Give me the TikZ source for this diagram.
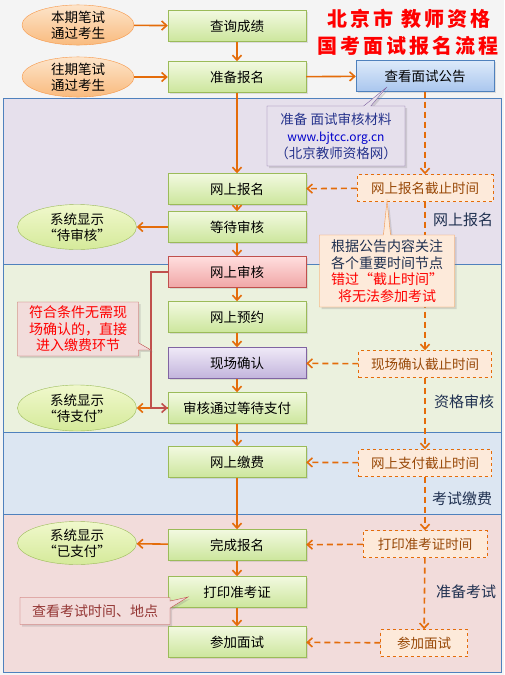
\documentclass[tikz,border=0pt]{standalone}
\usepackage{fontspec}
\setmainfont{Noto Sans CJK SC}
\newfontfamily\titlefont[LetterSpace=15]{Noto Sans CJK SC}
\usepackage{xcolor}
\usetikzlibrary{shapes.geometric, shapes.callouts, arrows.meta, positioning, shadows}

\definecolor{pagebg}{HTML}{F4F4F4}
\definecolor{bandA}{HTML}{E6E0EC}
\definecolor{bandB}{HTML}{EBF1DE}
\definecolor{bandC}{HTML}{DCE6F2}
\definecolor{bandD}{HTML}{F2DCDB}
\definecolor{bandline}{HTML}{4F81BD}
\definecolor{arrowor}{HTML}{E46C0A}
\definecolor{grntop}{HTML}{F2F9E0}
\definecolor{grnbot}{HTML}{CCE69C}
\definecolor{grnline}{HTML}{9BBB59}
\definecolor{redtop}{HTML}{FFDEDE}
\definecolor{redbot}{HTML}{F0A6A6}
\definecolor{redline}{HTML}{C0504D}
\definecolor{purtop}{HTML}{EFE9F7}
\definecolor{purbot}{HTML}{C2B4DC}
\definecolor{purline}{HTML}{8064A2}
\definecolor{blutop}{HTML}{DDEAFA}
\definecolor{blubot}{HTML}{A9C6EE}
\definecolor{orgtop}{HTML}{FDE4CA}
\definecolor{orgbot}{HTML}{F9BB7E}
\definecolor{orgline}{HTML}{F79646}
\definecolor{lgntop}{HTML}{F0F8CC}
\definecolor{lgnbot}{HTML}{D5EA9A}
\definecolor{timefill}{HTML}{FDEADA}
\definecolor{timetxt}{HTML}{984807}
\definecolor{navy}{HTML}{1F3050}
\definecolor{linkblue}{HTML}{26338C}
\definecolor{notered}{HTML}{F2DCDB}
\definecolor{notetxt}{HTML}{943634}

\begin{document}
\begin{tikzpicture}[
    x=1pt, y=-1pt,
    font=\fontsize{13.5}{16}\selectfont,
    >={Straight Barb[length=5pt,width=9pt]},
    block/.style={rectangle, minimum width=138pt, minimum height=31pt, align=center,
      drop shadow={opacity=0.2, shadow xshift=1.5pt, shadow yshift=-1.5pt}},
    greenblk/.style={block, draw=grnline, top color=grntop, bottom color=grnbot},
    redblk/.style={block, draw=redline, top color=redtop, bottom color=redbot},
    purpleblk/.style={block, draw=purline, top color=purtop, bottom color=purbot},
    blueblk/.style={block, draw=bandline, top color=blutop, bottom color=blubot},
    student/.style={ellipse, draw=orgline, top color=orgtop, bottom color=orgbot,
      minimum width=112pt, minimum height=40pt, inner sep=0pt, align=center},
    status/.style={ellipse, draw=grnline, top color=lgntop, bottom color=lgnbot,
      minimum width=119pt, minimum height=45pt, inner sep=0pt, align=center},
    timebox/.style={rectangle, draw=arrowor, dashed, fill=timefill, text=timetxt,
      minimum width=136pt, minimum height=27pt},
    phase/.style={text=navy, font=\fontsize{15}{18}\selectfont},
    note/.style={rectangle callout, align=center, inner sep=2pt, font=\fontsize{14}{16.5}\selectfont,
      drop shadow={opacity=0.25, shadow xshift=2pt, shadow yshift=-2pt}},
    arrow/.style={->, arrowor, line width=1.6pt},
    dashedarrow/.style={->, arrowor, line width=1.6pt, dash pattern=on 6pt off 4pt},
]
    \useasboundingbox (0,0) rectangle (504,675);
    \fill[pagebg] (0,0) rectangle (504,675);

    % Phase bands
    \fill[bandA] (3,98) rectangle (501,264);
    \fill[bandB] (3,264) rectangle (501,432);
    \fill[bandC] (3,432) rectangle (501,514);
    \fill[bandD] (3,514) rectangle (501,672);
    \draw[bandline] (3,264) -- (501,264) (3,432) -- (501,432) (3,514) -- (501,514);
    \draw[bandline] (3,98) rectangle (501,672);

    % Title
    \node[text=red, font=\titlefont\fontsize{20}{24}\selectfont\bfseries] (title1) at (409,19) {北京市 教师资格};
    \node[text=red, font=\titlefont\fontsize{20}{24}\selectfont\bfseries] (title2) at (408,46) {国考面试报名流程};

    % Candidates
    \node[student] (bqks) at (78,25) {本期笔试\\通过考生};
    \node[student] (wqks) at (78,77) {往期笔试\\通过考生};

    % Main column
    \node[greenblk] (chaxun) at (237,26) {查询成绩};
    \node[greenblk] (zhunbei) at (237,77) {准备报名};
    \node[blueblk] (gonggao) at (425,76) {查看面试公告};
    \node[greenblk] (wsbm) at (237,189) {网上报名};
    \node[greenblk] (dengdai) at (237,227) {等待审核};
    \node[redblk] (wssh) at (237,272) {网上审核};
    \node[greenblk] (wsyy) at (237,317) {网上预约};
    \node[purpleblk] (xcqr) at (237,363) {现场确认};
    \node[greenblk] (shtg) at (237,408) {审核通过等待支付};
    \node[greenblk] (wsjf) at (237,462) {网上缴费};
    \node[greenblk] (wcbm) at (237,545) {完成报名};
    \node[greenblk] (dyzkz) at (237,592) {打印准考证};
    \node[greenblk] (cjms) at (237,642) {参加面试};

    % Status
    \node[status] (dsh) at (77,227) {系统显示\\“待审核”};
    \node[status, minimum height=46pt] (dzf) at (77,408) {系统显示\\“待支付”};
    \node[status, minimum height=43pt] (yzf) at (77,543) {系统显示\\“已支付”};

    % Time points
    \node[timebox] (jzbm) at (425,188) {网上报名截止时间};
    \node[timebox, minimum width=133pt] (jzqr) at (425,364) {现场确认截止时间};
    \node[timebox, minimum width=133pt] (jzzf) at (425,463) {网上支付截止时间};
    \node[timebox, minimum width=124pt] (dysj) at (425,544) {打印准考证时间};
    \node[timebox, minimum width=87pt] (msdl) at (424,643) {参加面试};

    % Phase labels
    \node[phase] (ph1) at (463,220) {网上报名};
    \node[phase] (ph2) at (464,402) {资格审核};
    \node[phase] (ph3) at (462,499) {考试缴费};
    \node[phase] (ph4) at (466,592) {准备考试};

    % Solid flow
    \draw[arrow] (bqks) -- (chaxun);
    \draw[arrow] (wqks) -- (zhunbei);
    \draw[arrow] (chaxun) -- (zhunbei);
    \draw[arrow] (zhunbei) -- (gonggao);
    \draw[arrow] (zhunbei) -- (wsbm);
    \draw[arrow] (wsbm) -- (dengdai);
    \draw[arrow] (dengdai) -- (dsh);
    \draw[arrow] (dengdai) -- (wssh);
    \draw[arrow] (wssh) -- (wsyy);
    \draw[arrow] (wsyy) -- (xcqr);
    \draw[arrow] (xcqr) -- (shtg);
    \draw[arrow] (shtg) -- (dzf);
    \draw[arrow] (shtg) -- (wsjf);
    \draw[arrow] (wsjf) -- (wcbm);
    \draw[arrow] (wcbm) -- (yzf);
    \draw[arrow] (wcbm) -- (dyzkz);
    \draw[arrow] (dyzkz) -- (cjms);
    \draw[->, redline, line width=1.6pt] (wssh.west) -- ++(-17,0) |- (shtg.west);

    % Time line
    \draw[dashedarrow] (gonggao) -- (jzbm);
    \draw[dashedarrow] (jzbm) -- (jzqr);
    \draw[dashedarrow] (jzqr) -- (jzzf);
    \draw[dashedarrow] (jzzf) -- (dysj);
    \draw[dashedarrow] (dysj) -- (msdl);
    \draw[dashedarrow] (jzbm) -- (wsbm);
    \draw[dashedarrow] (jzqr) -- (xcqr);
    \draw[dashedarrow] (jzzf) -- (wsjf);
    \draw[dashedarrow] (dysj) -- (wcbm);
    \draw[dashedarrow] (msdl) -- (cjms);

    % Notes
    \node[note, draw=purline, fill=bandA, text=linkblue, minimum width=138pt, minimum height=60pt,
      font=\fontsize{13.5}{17}\selectfont, callout absolute pointer={(387,87)}] (cailiao) at (336,136)
      {准备 面试审核材料\\{\color{blue!80!black}\fontsize{12}{15}\selectfont www.bjtcc.org.cn}\\（北京教师资格网）};
    \node[note, draw=orgline, fill=timefill, text=navy, minimum width=135pt, minimum height=72pt,
      callout absolute pointer={(387,201)}] (tixing) at (387,271)
      {根据公告内容关注\\各个重要时间节点\\{\color{red}错过“截止时间”}\\{\color{red}将无法参加考试}};
    \node[note, draw=redline, fill=notered, text=red, minimum width=121pt, minimum height=54pt,
      callout absolute pointer={(151,350)}] (mianqr) at (78,329)
      {符合条件无需现\\场确认的，直接\\进入缴费环节};
    \node[note, draw=redline, fill=notered, text=notetxt, minimum width=150pt, minimum height=27pt,
      callout absolute pointer={(188,597)}] (chakan) at (95,611)
      {查看考试时间、地点};
\end{tikzpicture}
\end{document}
